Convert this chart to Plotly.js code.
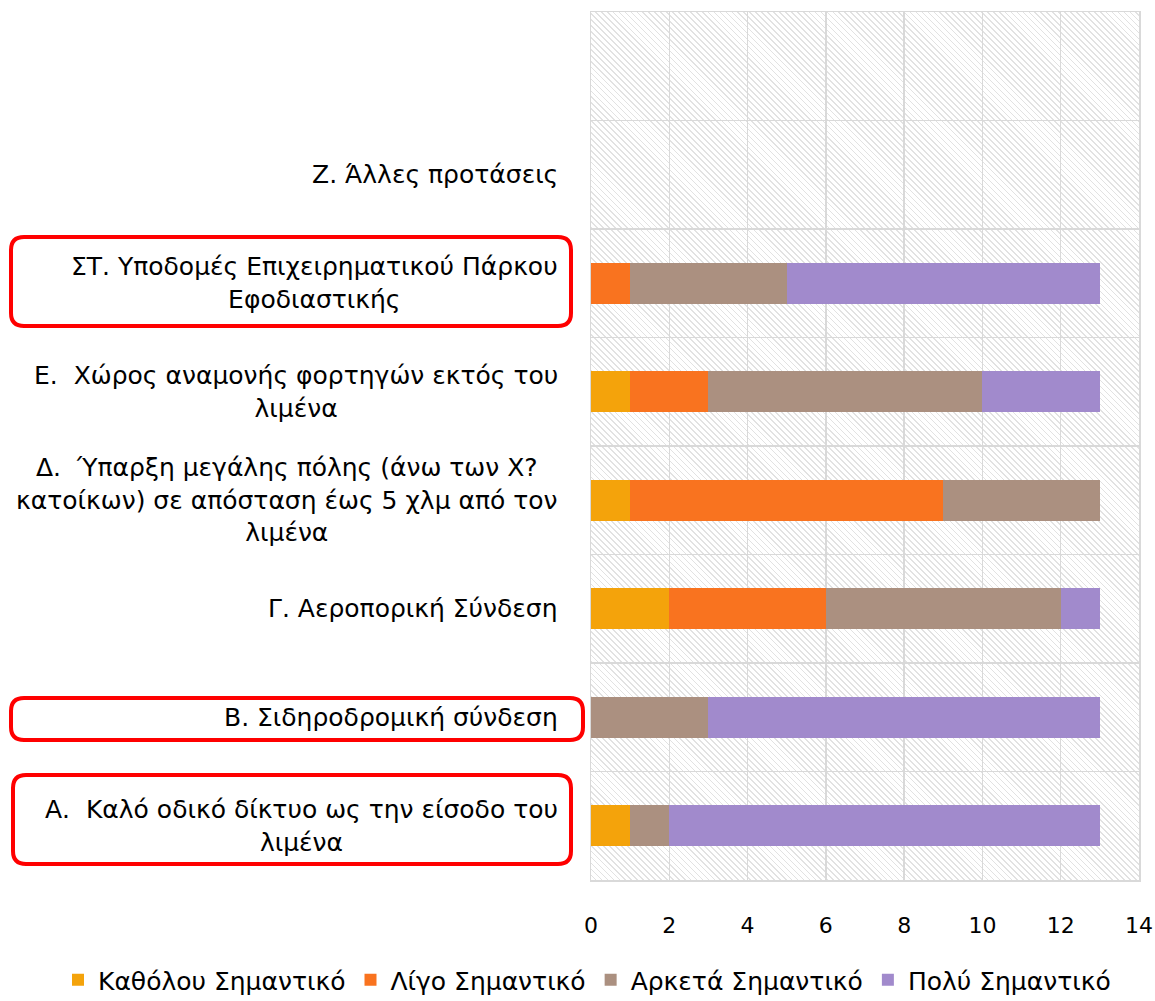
<!DOCTYPE html>
<html>
<head>
<meta charset="utf-8">
<script src="https://cdn.plot.ly/plotly-3.0.1.min.js"></script>
<style>
  html, body { margin: 0; padding: 0; background: #ffffff; }
  #wrap { position: relative; width: 1155px; height: 1001px; }
  #hatch {
    position: absolute; left: 591px; top: 12px; width: 548px; height: 868px;
    background: repeating-linear-gradient(45deg, #ffffff 0px, #ffffff 3px, #e2e2e2 3px, #e2e2e2 4.2px);
  }
  #chart { position: absolute; left: 0; top: 0; width: 1155px; height: 1001px; }
</style>
</head>
<body>
<div id="wrap">
  <div id="hatch"></div>
  <div id="chart"></div>
</div>
<script>
// ---- data ----
const categories = ["A", "B", "G", "D", "E", "ST", "Z", "top"];
const categoryLabels = [
  "Α.  Καλό οδικό δίκτυο ως την είσοδο του<br>λιμένα",
  "Β. Σιδηροδρομική σύνδεση",
  "Γ. Αεροπορική Σύνδεση",
  "Δ.  Ύπαρξη μεγάλης πόλης (άνω των Χ?<br>κατοίκων) σε απόσταση έως 5 χλμ από τον<br>λιμένα",
  "Ε.  Χώρος αναμονής φορτηγών εκτός του<br>λιμένα",
  "ΣΤ. Υποδομές Επιχειρηματικού Πάρκου<br>Εφοδιαστικής",
  "Ζ. Άλλες προτάσεις",
  ""
];
const seriesNames = ["Καθόλου Σημαντικό", "Λίγο Σημαντικό", "Αρκετά Σημαντικό", "Πολύ Σημαντικό"];
const katholou = [1, 0, 2, 1, 1, 0, 0, 0];
const ligo     = [0, 0, 4, 8, 2, 1, 0, 0];
const arketa   = [1, 3, 6, 4, 7, 4, 0, 0];
const poly     = [11, 10, 1, 0, 3, 8, 0, 0];
const xTickVals = [0, 2, 4, 6, 8, 10, 12, 14];

// ---- styles ----
const colors = ["#f4a30b", "#f9731f", "#ab9080", "#a18acc"];
const seriesValues = [katholou, ligo, arketa, poly];
const FONT = "DejaVu Sans, Verdana, sans-serif";

const traces = seriesNames.map((name, i) => ({
  type: "bar",
  orientation: "h",
  name: name,
  x: seriesValues[i],
  y: categories,
  marker: { color: colors[i], line: { width: 0 } },
  hoverinfo: "x+name"
}));

// geometry of plot area in pixels
const W = 1155, H = 1001;
const L = 591, R = 1139, T = 12, B = 880;
const px2x = p => (p - L) / (R - L);
const py2y = p => (B - p) / (B - T);

function roundRect(x0, y0, x1, y1, r) {
  const X = px2x, Y = py2y;
  const dxr = r / (R - L), dyr = r / (B - T);
  const a = X(x0), b = X(x1), top = Y(y0), bot = Y(y1);
  return `M ${a + dxr} ${top} L ${b - dxr} ${top} Q ${b} ${top} ${b} ${top - dyr} ` +
         `L ${b} ${bot + dyr} Q ${b} ${bot} ${b - dxr} ${bot} ` +
         `L ${a + dxr} ${bot} Q ${a} ${bot} ${a} ${bot + dyr} ` +
         `L ${a} ${top - dyr} Q ${a} ${top} ${a + dxr} ${top} Z`;
}

const boxes = [
  [11, 237, 571, 326],
  [11, 698, 583, 740],
  [13, 775, 571, 864]
];

const shapes = boxes.map(bx => ({
  type: "path",
  xref: "paper", yref: "paper",
  path: roundRect(bx[0], bx[1], bx[2], bx[3], 13),
  line: { color: "#ff0000", width: 4 },
  fillcolor: "rgba(0,0,0,0)",
  layer: "above"
}));

const annotations = categories.map((c, i) => ({
  xref: "paper", yref: "y",
  x: 0, y: c,
  xanchor: "right", yanchor: "middle",
  xshift: -31,
  text: categoryLabels[i],
  showarrow: false,
  align: "center",
  font: { family: FONT, size: 25, color: "#000000" }
}));

const layout = {
  width: W, height: H,
  margin: { l: L, r: W - R, t: T, b: H - B, pad: 0, autoexpand: false },
  paper_bgcolor: "rgba(0,0,0,0)",
  plot_bgcolor: "rgba(0,0,0,0)",
  barmode: "stack",
  bargap: 0.62,
  font: { family: FONT, size: 22, color: "#000000" },
  xaxis: {
    range: [0, 14],
    tickvals: xTickVals,
    showgrid: true, gridcolor: "#d9d9d9", gridwidth: 1.5,
    zeroline: false,
    showline: true, mirror: true, linecolor: "#d9d9d9", linewidth: 1.5,
    ticks: "", ticklabelstandoff: 25,
    tickfont: { family: FONT, size: 22, color: "#000000" },
    fixedrange: true,
    automargin: false
  },
  yaxis: {
    type: "category",
    categoryorder: "array", categoryarray: categories,
    tickson: "boundaries",
    showgrid: true, gridcolor: "#d9d9d9", gridwidth: 1.5,
    showline: true, mirror: true, linecolor: "#d9d9d9", linewidth: 1.5,
    showticklabels: false, ticks: "",
    range: [-0.5, 7.5],
    fixedrange: true,
    automargin: false
  },
  legend: {
    orientation: "h",
    xref: "paper", yref: "paper",
    x: px2x(58), y: py2y(980), xanchor: "left", yanchor: "middle",
    traceorder: "normal",
    font: { family: FONT, size: 25, color: "#000000" },
    itemwidth: 30,
    bgcolor: "rgba(0,0,0,0)"
  },
  shapes: shapes,
  annotations: annotations,
  showlegend: true
};

Plotly.newPlot("chart", traces, layout, { displayModeBar: false, staticPlot: true });
</script>
</body>
</html>
